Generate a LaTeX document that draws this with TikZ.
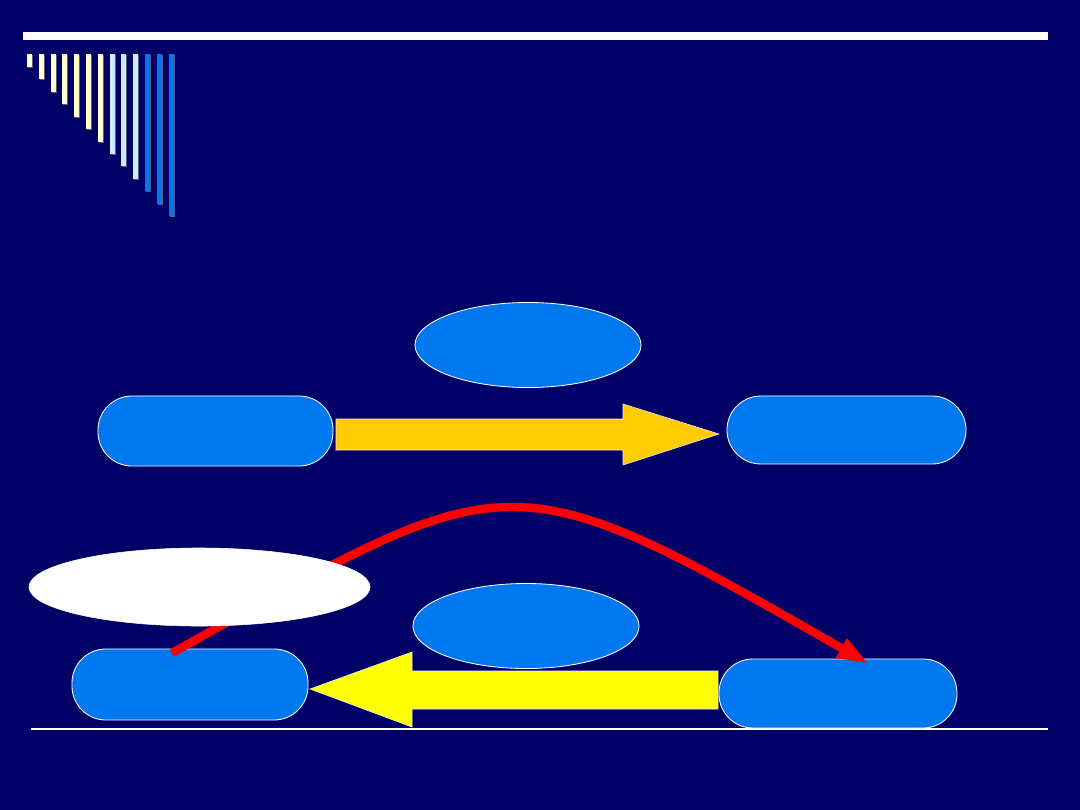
\documentclass[tikz,border=0pt]{standalone}
\usetikzlibrary{arrows.meta,shapes.geometric}
\definecolor{navy}{RGB}{0,0,102}
\definecolor{boxblue}{RGB}{0,120,240}
\definecolor{lyellow}{RGB}{255,255,204}
\definecolor{lblue}{RGB}{204,236,255}
\definecolor{barshadow}{RGB}{90,90,140}
\definecolor{gold}{RGB}{255,204,0}
\definecolor{yel}{RGB}{255,255,0}
\tikzset{
  pill/.style={draw=white, line width=0.6pt, fill=boxblue, rounded corners=0.85cm, inner sep=0pt},
  oval/.style={draw=white, line width=0.6pt, fill=boxblue, ellipse, inner sep=0pt},
  whiteoval/.style={draw=white, fill=white, ellipse, inner sep=0pt},
  bigarrow/.style={draw=white!85!gray, line width=0.4pt},
  redline/.style={draw=red, line width=0.21cm, -{Triangle[length=0.8cm,width=0.5cm]}},
}
\begin{document}
\begin{tikzpicture}[x=0.025cm,y=-0.025cm]
\fill[navy] (0,0) rectangle (1080,810);
\useasboundingbox (0,0) rectangle (1080,810);
% top bar
\fill[white] (23,32) rectangle (1048,40);
% comb bars
\foreach \i in {0,...,12}{
  \pgfmathsetmacro{\xl}{27+11.8*\i}
  \pgfmathsetmacro{\yb}{67+12.42*\i}
  \ifnum\i<7 \def\bc{lyellow}\else\ifnum\i<10 \def\bc{lblue}\else\def\bc{boxblue}\fi\fi
  \fill[barshadow] (\xl+1,55) rectangle (\xl+6,\yb+1);
  \fill[\bc] (\xl,54) rectangle (\xl+5,\yb);
}
% bottom line
\fill[white] (31,728) rectangle (1048,730);
% ellipses
\node[oval, minimum width=5.65cm, minimum height=2.125cm] (e1) at (528,345) {};
\node[oval, minimum width=5.65cm, minimum height=2.125cm] (e2) at (526,626) {};
% boxes
\node[pill, minimum width=5.875cm, minimum height=1.75cm] (A) at (215.5,431) {};
\node[pill, minimum width=5.975cm, minimum height=1.70cm] (B) at (846.5,430) {};
\node[pill, minimum width=5.9cm, minimum height=1.775cm] (C) at (190,684.5) {};
\node[pill, minimum width=5.95cm, minimum height=1.725cm] (D) at (838,693.5) {};
% gold arrow A -> B
\draw[bigarrow, fill=gold] (336,419) -- (623,419) -- (623,404) -- (719,434) -- (623,465) -- (623,450) -- (336,450) -- cycle;
% yellow arrow D -> C
\draw[bigarrow, fill=yel] (718,671) -- (412,671) -- (412,652) -- (310,689) -- (412,727) -- (412,709) -- (718,709) -- cycle;
% red curve C -> D
\coordinate (rs) at (172,653);
\coordinate (re) at (869,664);
\draw[redline] (rs) .. controls (512,463) and (505,455) .. (re);
% white ellipse on top
\node[whiteoval, minimum width=8.525cm, minimum height=1.95cm] (W) at (199.5,587) {};
\end{tikzpicture}
\end{document}
